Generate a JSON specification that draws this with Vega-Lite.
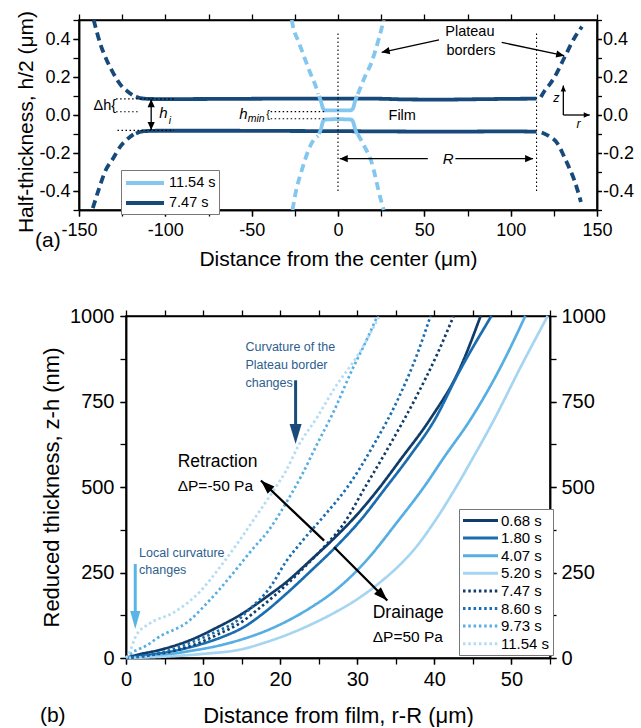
{
  "$schema": "https://vega.github.io/schema/vega-lite/v6.json",
  "background": "white",
  "padding": {"left": 15, "top": 9, "right": 0, "bottom": 0},
  "spacing": 106,
  "center": true,
  "bounds": "flush",
  "resolve": {"scale": {"color": "independent", "strokeDash": "independent"}, "legend": {"color": "independent", "strokeDash": "independent"}},
  "config": {
    "font": "Liberation Sans",
    "view": {"stroke": "black", "strokeWidth": 1.5},
    "axis": {"grid": false, "domainColor": "black", "domainWidth": 1.5, "tickColor": "black", "tickWidth": 1.3, "labelColor": "black", "titleColor": "black", "titleFontWeight": "normal", "labelFlush": false, "labelOverlap": false, "labelFont": "Liberation Sans", "titleFont": "Liberation Sans"},
    "legend": {"labelFont": "Liberation Sans", "labelColor": "black"}
  },
  "vconcat": [
    {
      "width": 518,
      "height": 190,
      "resolve": {"axis": {"x": "independent", "y": "independent"}},
      "layer": [
        {
          "layer": [
            {
              "data": {"values": [
                {"t": "7.47 s", "seg": "film-up", "part": "film", "x": -117, "y": 0.097},
                {"t": "7.47 s", "seg": "film-up", "part": "film", "x": -115, "y": 0.09},
                {"t": "7.47 s", "seg": "film-up", "part": "film", "x": -112, "y": 0.086},
                {"t": "7.47 s", "seg": "film-up", "part": "film", "x": -105, "y": 0.084},
                {"t": "7.47 s", "seg": "film-up", "part": "film", "x": -90, "y": 0.084},
                {"t": "7.47 s", "seg": "film-up", "part": "film", "x": -60, "y": 0.085},
                {"t": "7.47 s", "seg": "film-up", "part": "film", "x": -30, "y": 0.086},
                {"t": "7.47 s", "seg": "film-up", "part": "film", "x": 0, "y": 0.086},
                {"t": "7.47 s", "seg": "film-up", "part": "film", "x": 20, "y": 0.086},
                {"t": "7.47 s", "seg": "film-up", "part": "film", "x": 40, "y": 0.082},
                {"t": "7.47 s", "seg": "film-up", "part": "film", "x": 60, "y": 0.081},
                {"t": "7.47 s", "seg": "film-up", "part": "film", "x": 80, "y": 0.083},
                {"t": "7.47 s", "seg": "film-up", "part": "film", "x": 100, "y": 0.085},
                {"t": "7.47 s", "seg": "film-up", "part": "film", "x": 115, "y": 0.086},
                {"t": "7.47 s", "seg": "film-low", "part": "film", "x": -117, "y": -0.097},
                {"t": "7.47 s", "seg": "film-low", "part": "film", "x": -115, "y": -0.09},
                {"t": "7.47 s", "seg": "film-low", "part": "film", "x": -112, "y": -0.085},
                {"t": "7.47 s", "seg": "film-low", "part": "film", "x": -105, "y": -0.083},
                {"t": "7.47 s", "seg": "film-low", "part": "film", "x": -90, "y": -0.083},
                {"t": "7.47 s", "seg": "film-low", "part": "film", "x": -60, "y": -0.083},
                {"t": "7.47 s", "seg": "film-low", "part": "film", "x": -30, "y": -0.084},
                {"t": "7.47 s", "seg": "film-low", "part": "film", "x": 0, "y": -0.085},
                {"t": "7.47 s", "seg": "film-low", "part": "film", "x": 20, "y": -0.086},
                {"t": "7.47 s", "seg": "film-low", "part": "film", "x": 40, "y": -0.087},
                {"t": "7.47 s", "seg": "film-low", "part": "film", "x": 60, "y": -0.088},
                {"t": "7.47 s", "seg": "film-low", "part": "film", "x": 80, "y": -0.087},
                {"t": "7.47 s", "seg": "film-low", "part": "film", "x": 100, "y": -0.086},
                {"t": "7.47 s", "seg": "film-low", "part": "film", "x": 115, "y": -0.088},
                {"t": "7.47 s", "seg": "pb-ul", "part": "border", "x": -118.5, "y": 0.102},
                {"t": "7.47 s", "seg": "pb-ul", "part": "border", "x": -122, "y": 0.125},
                {"t": "7.47 s", "seg": "pb-ul", "part": "border", "x": -126, "y": 0.16},
                {"t": "7.47 s", "seg": "pb-ul", "part": "border", "x": -130, "y": 0.218},
                {"t": "7.47 s", "seg": "pb-ul", "part": "border", "x": -134, "y": 0.29},
                {"t": "7.47 s", "seg": "pb-ul", "part": "border", "x": -137.5, "y": 0.37},
                {"t": "7.47 s", "seg": "pb-ul", "part": "border", "x": -141.5, "y": 0.5},
                {"t": "7.47 s", "seg": "pb-ll", "part": "border", "x": -118.5, "y": -0.102},
                {"t": "7.47 s", "seg": "pb-ll", "part": "border", "x": -122, "y": -0.127},
                {"t": "7.47 s", "seg": "pb-ll", "part": "border", "x": -126, "y": -0.165},
                {"t": "7.47 s", "seg": "pb-ll", "part": "border", "x": -130, "y": -0.225},
                {"t": "7.47 s", "seg": "pb-ll", "part": "border", "x": -135, "y": -0.3},
                {"t": "7.47 s", "seg": "pb-ll", "part": "border", "x": -138.5, "y": -0.39},
                {"t": "7.47 s", "seg": "pb-ll", "part": "border", "x": -142, "y": -0.49},
                {"t": "7.47 s", "seg": "pb-ur", "part": "border", "x": 117.5, "y": 0.095},
                {"t": "7.47 s", "seg": "pb-ur", "part": "border", "x": 119.5, "y": 0.125},
                {"t": "7.47 s", "seg": "pb-ur", "part": "border", "x": 122.5, "y": 0.16},
                {"t": "7.47 s", "seg": "pb-ur", "part": "border", "x": 125.3, "y": 0.198},
                {"t": "7.47 s", "seg": "pb-ur", "part": "border", "x": 131, "y": 0.3},
                {"t": "7.47 s", "seg": "pb-ur", "part": "border", "x": 136.9, "y": 0.405},
                {"t": "7.47 s", "seg": "pb-ur", "part": "border", "x": 141.3, "y": 0.465},
                {"t": "7.47 s", "seg": "pb-lr", "part": "border", "x": 118, "y": -0.092},
                {"t": "7.47 s", "seg": "pb-lr", "part": "border", "x": 122, "y": -0.11},
                {"t": "7.47 s", "seg": "pb-lr", "part": "border", "x": 127.2, "y": -0.151},
                {"t": "7.47 s", "seg": "pb-lr", "part": "border", "x": 131, "y": -0.22},
                {"t": "7.47 s", "seg": "pb-lr", "part": "border", "x": 134, "y": -0.28},
                {"t": "7.47 s", "seg": "pb-lr", "part": "border", "x": 136.9, "y": -0.344},
                {"t": "7.47 s", "seg": "pb-lr", "part": "border", "x": 140.7, "y": -0.458},
                {"t": "11.54 s", "seg": "film-up", "part": "film", "x": -11, "y": 0.1},
                {"t": "11.54 s", "seg": "film-up", "part": "film", "x": -9.8, "y": 0.07},
                {"t": "11.54 s", "seg": "film-up", "part": "film", "x": -8.7, "y": 0.035},
                {"t": "11.54 s", "seg": "film-up", "part": "film", "x": -7.5, "y": 0.025},
                {"t": "11.54 s", "seg": "film-up", "part": "film", "x": 0, "y": 0.024},
                {"t": "11.54 s", "seg": "film-up", "part": "film", "x": 7.5, "y": 0.025},
                {"t": "11.54 s", "seg": "film-up", "part": "film", "x": 8.7, "y": 0.035},
                {"t": "11.54 s", "seg": "film-up", "part": "film", "x": 9.8, "y": 0.07},
                {"t": "11.54 s", "seg": "film-up", "part": "film", "x": 11, "y": 0.1},
                {"t": "11.54 s", "seg": "film-low", "part": "film", "x": -11, "y": -0.1},
                {"t": "11.54 s", "seg": "film-low", "part": "film", "x": -9.8, "y": -0.07},
                {"t": "11.54 s", "seg": "film-low", "part": "film", "x": -8.7, "y": -0.035},
                {"t": "11.54 s", "seg": "film-low", "part": "film", "x": -7.5, "y": -0.024},
                {"t": "11.54 s", "seg": "film-low", "part": "film", "x": 0, "y": -0.022},
                {"t": "11.54 s", "seg": "film-low", "part": "film", "x": 7.5, "y": -0.024},
                {"t": "11.54 s", "seg": "film-low", "part": "film", "x": 8.7, "y": -0.035},
                {"t": "11.54 s", "seg": "film-low", "part": "film", "x": 9.8, "y": -0.07},
                {"t": "11.54 s", "seg": "film-low", "part": "film", "x": 11, "y": -0.1},
                {"t": "11.54 s", "seg": "pb-ul", "part": "border", "x": -11.5, "y": 0.11},
                {"t": "11.54 s", "seg": "pb-ul", "part": "border", "x": -12.7, "y": 0.146},
                {"t": "11.54 s", "seg": "pb-ul", "part": "border", "x": -16, "y": 0.22},
                {"t": "11.54 s", "seg": "pb-ul", "part": "border", "x": -19.5, "y": 0.303},
                {"t": "11.54 s", "seg": "pb-ul", "part": "border", "x": -23, "y": 0.39},
                {"t": "11.54 s", "seg": "pb-ul", "part": "border", "x": -25.7, "y": 0.452},
                {"t": "11.54 s", "seg": "pb-ul", "part": "border", "x": -26.8, "y": 0.5},
                {"t": "11.54 s", "seg": "pb-ur", "part": "border", "x": 11.5, "y": 0.11},
                {"t": "11.54 s", "seg": "pb-ur", "part": "border", "x": 12.4, "y": 0.13},
                {"t": "11.54 s", "seg": "pb-ur", "part": "border", "x": 15.5, "y": 0.2},
                {"t": "11.54 s", "seg": "pb-ur", "part": "border", "x": 19.1, "y": 0.27},
                {"t": "11.54 s", "seg": "pb-ur", "part": "border", "x": 23.9, "y": 0.41},
                {"t": "11.54 s", "seg": "pb-ur", "part": "border", "x": 26.5, "y": 0.5},
                {"t": "11.54 s", "seg": "pb-ll", "part": "border", "x": -11.5, "y": -0.11},
                {"t": "11.54 s", "seg": "pb-ll", "part": "border", "x": -14.7, "y": -0.14},
                {"t": "11.54 s", "seg": "pb-ll", "part": "border", "x": -20.4, "y": -0.274},
                {"t": "11.54 s", "seg": "pb-ll", "part": "border", "x": -25.7, "y": -0.466},
                {"t": "11.54 s", "seg": "pb-ll", "part": "border", "x": -26.3, "y": -0.5},
                {"t": "11.54 s", "seg": "pb-lr", "part": "border", "x": 11.4, "y": -0.1},
                {"t": "11.54 s", "seg": "pb-lr", "part": "border", "x": 15, "y": -0.16},
                {"t": "11.54 s", "seg": "pb-lr", "part": "border", "x": 19.1, "y": -0.239},
                {"t": "11.54 s", "seg": "pb-lr", "part": "border", "x": 24.9, "y": -0.449},
                {"t": "11.54 s", "seg": "pb-lr", "part": "border", "x": 26.5, "y": -0.5}
              ]},
              "mark": {"type": "line", "interpolate": "monotone", "strokeWidth": 3.8},
              "encoding": {
                "x": {"field": "x", "type": "quantitative", "scale": {"domain": [-150, 150], "nice": false, "zero": false},
                  "axis": {"orient": "bottom", "title": "Distance from the center (μm)", "values": [-150, -100, -50, 0, 50, 100, 150], "labelExpr": "'' + datum.value", "labelOverlap": false, "tickSize": 6, "labelFontSize": 18, "labelPadding": 5, "titleFontSize": 21, "titlePadding": 9}},
                "y": {"field": "y", "type": "quantitative", "scale": {"domain": [-0.5, 0.5], "nice": false, "zero": false},
                  "axis": {"orient": "left", "title": "Half-thickness, h/2 (μm)", "titleY": 101.5, "values": [-0.4, -0.2, 0, 0.2, 0.4], "labelExpr": "replace(format(datum.value, '.1f'), '\u2212', '-')", "labelOverlap": false, "tickSize": 6, "labelFontSize": 18, "labelPadding": 3, "titleFontSize": 21, "titlePadding": 2}},
                "color": {"field": "t", "type": "nominal", "scale": {"domain": ["11.54 s", "7.47 s"], "range": ["#83c6ef", "#174a7b"]},
                  "legend": {"orient": "none", "legendX": 42, "legendY": 150, "title": null, "symbolType": "M-2.5,0H2.5", "symbolSize": 231, "symbolStrokeWidth": 4, "labelFontSize": 14.5, "labelOffset": 14, "symbolOffset": 11, "strokeColor": "#777", "fillColor": "white", "padding": 3, "rowPadding": 2}},
                "strokeDash": {"field": "part", "type": "nominal", "scale": {"domain": ["film", "border"], "range": [[1, 0], [8, 5]]}, "legend": null},
                "detail": {"field": "seg"}
              }
            },
            {
              "data": {"values": [{"x": -108.2, "y": 0.083}]},
              "mark": {"type": "point", "shape": "M0,0L-0.45,1L0.45,1Z", "filled": true, "color": "black", "opacity": 1, "size": 256, "angle": 0, "strokeWidth": 0},
              "encoding": {"x": {"field": "x", "type": "quantitative"}, "y": {"field": "y", "type": "quantitative"}}
            },
            {
              "data": {"values": [{"x": -108.2, "y": -0.079}]},
              "mark": {"type": "point", "shape": "M0,0L-0.45,1L0.45,1Z", "filled": true, "color": "black", "opacity": 1, "size": 256, "angle": 180, "strokeWidth": 0},
              "encoding": {"x": {"field": "x", "type": "quantitative"}, "y": {"field": "y", "type": "quantitative"}}
            },
            {
              "data": {"values": [{"x": 1, "y": -0.23}]},
              "mark": {"type": "point", "shape": "M0,0L-0.45,1L0.45,1Z", "filled": true, "color": "black", "opacity": 1, "size": 256, "angle": 270, "strokeWidth": 0},
              "encoding": {"x": {"field": "x", "type": "quantitative"}, "y": {"field": "y", "type": "quantitative"}}
            },
            {
              "data": {"values": [{"x": 113, "y": -0.23}]},
              "mark": {"type": "point", "shape": "M0,0L-0.45,1L0.45,1Z", "filled": true, "color": "black", "opacity": 1, "size": 256, "angle": 90, "strokeWidth": 0},
              "encoding": {"x": {"field": "x", "type": "quantitative"}, "y": {"field": "y", "type": "quantitative"}}
            },
            {
              "data": {"values": [{"x": 25.3, "y": 0.33}]},
              "mark": {"type": "point", "shape": "M0,0L-0.45,1L0.45,1Z", "filled": true, "color": "black", "opacity": 1, "size": 256, "angle": 257.8, "strokeWidth": 0},
              "encoding": {"x": {"field": "x", "type": "quantitative"}, "y": {"field": "y", "type": "quantitative"}}
            },
            {
              "data": {"values": [{"x": 131, "y": 0.312}]},
              "mark": {"type": "point", "shape": "M0,0L-0.45,1L0.45,1Z", "filled": true, "color": "black", "opacity": 1, "size": 256, "angle": 102, "strokeWidth": 0},
              "encoding": {"x": {"field": "x", "type": "quantitative"}, "y": {"field": "y", "type": "quantitative"}}
            },
            {
              "data": {"values": [{"x": 130.5, "y": 0.155}]},
              "mark": {"type": "point", "shape": "M0,0L-0.45,1L0.45,1Z", "filled": true, "color": "black", "opacity": 1, "size": 144, "angle": 0, "strokeWidth": 0},
              "encoding": {"x": {"field": "x", "type": "quantitative"}, "y": {"field": "y", "type": "quantitative"}}
            },
            {
              "data": {"values": [{"x": 145.8, "y": 0}]},
              "mark": {"type": "point", "shape": "M0,0L-0.45,1L0.45,1Z", "filled": true, "color": "black", "opacity": 1, "size": 144, "angle": 90, "strokeWidth": 0},
              "encoding": {"x": {"field": "x", "type": "quantitative"}, "y": {"field": "y", "type": "quantitative"}}
            },
            {
              "data": {"values": [
                {"x": 76.4, "y": 0.435, "label": "Plateau"},
                {"x": 77, "y": 0.339, "label": "borders"},
                {"x": 37.2, "y": -0.003, "label": "Film"}
              ]},
              "mark": {"type": "text", "fontSize": 14.5, "color": "black", "align": "center", "baseline": "middle"},
              "encoding": {"x": {"field": "x", "type": "quantitative"}, "y": {"field": "y", "type": "quantitative"}, "text": {"field": "label"}}
            },
            {
              "data": {"values": [{"x": -128.5, "y": 0.05, "label": "Δh{"}]},
              "mark": {"type": "text", "fontSize": 14.5, "color": "black", "align": "right", "baseline": "middle"},
              "encoding": {"x": {"field": "x", "type": "quantitative"}, "y": {"field": "y", "type": "quantitative"}, "text": {"field": "label"}}
            },
            {
              "data": {"values": [{"x": -40.5, "y": 0.0, "label": "{"}]},
              "mark": {"type": "text", "fontSize": 11, "color": "black", "align": "center", "baseline": "middle"},
              "encoding": {"x": {"field": "x", "type": "quantitative"}, "y": {"field": "y", "type": "quantitative"}, "text": {"field": "label"}}
            },
            {
              "data": {"values": [
                {"x": 60.6, "y": -0.231, "label": "R"},
                {"x": -103.5, "y": 0.01, "label": "h"},
                {"x": -57.2, "y": 0.003, "label": "h"}
              ]},
              "mark": {"type": "text", "fontSize": 15, "fontStyle": "italic", "color": "black", "align": "left", "baseline": "middle"},
              "encoding": {"x": {"field": "x", "type": "quantitative"}, "y": {"field": "y", "type": "quantitative"}, "text": {"field": "label"}}
            },
            {
              "data": {"values": [
                {"x": -98.0, "y": -0.029, "label": "i"},
                {"x": -52.3, "y": -0.023, "label": "min"}
              ]},
              "mark": {"type": "text", "fontSize": 10.5, "fontStyle": "italic", "color": "black", "align": "left", "baseline": "middle"},
              "encoding": {"x": {"field": "x", "type": "quantitative"}, "y": {"field": "y", "type": "quantitative"}, "text": {"field": "label"}}
            },
            {
              "data": {"values": [
                {"x": 126.5, "y": 0.088, "label": "z"},
                {"x": 139.4, "y": -0.046, "label": "r"}
              ]},
              "mark": {"type": "text", "fontSize": 12.5, "fontStyle": "italic", "color": "black", "align": "center", "baseline": "middle"},
              "encoding": {"x": {"field": "x", "type": "quantitative"}, "y": {"field": "y", "type": "quantitative"}, "text": {"field": "label"}}
            },
            {
              "data": {"values": [{"x": -168, "y": -0.664, "label": "(a)"}]},
              "mark": {"type": "text", "fontSize": 21, "color": "black", "align": "center", "baseline": "middle"},
              "encoding": {"x": {"field": "x", "type": "quantitative"}, "y": {"field": "y", "type": "quantitative"}, "text": {"field": "label"}}
            }
          ]
        },
        {
          "data": {"values": [
            {"x": 0, "y": -0.4, "y2": 0.43},
            {"x": 115, "y": -0.4, "y2": 0.43}
          ]},
          "mark": {"type": "rule", "strokeDash": [1.5, 2.5], "strokeWidth": 1.1, "color": "black"},
          "encoding": {
            "x": {"field": "x", "type": "quantitative", "scale": {"domain": [-150, 150], "nice": false, "zero": false},
              "axis": {"orient": "top", "title": null, "labels": false, "values": [-150, -125, -100, -75, -50, -25, 0, 25, 50, 75, 100, 125, 150], "tickSize": 6}},
            "y": {"field": "y", "type": "quantitative", "scale": {"domain": [-0.5, 0.5], "nice": false, "zero": false},
              "axis": {"orient": "right", "title": null, "values": [-0.4, -0.2, 0, 0.2, 0.4], "labelExpr": "replace(format(datum.value, '.1f'), '\u2212', '-')", "labelOverlap": false, "tickSize": 4.5, "labelFontSize": 18, "labelPadding": 1}},
            "y2": {"field": "y2"}
          }
        },
        {
          "data": {"values": [
            {"x": -128.5, "x2": -95, "y": 0.085},
            {"x": -128.5, "x2": -116, "y": 0.017},
            {"x": -127.7, "x2": -95, "y": -0.081},
            {"x": -39, "x2": -8, "y": 0.018},
            {"x": -39, "x2": -8, "y": -0.02}
          ]},
          "mark": {"type": "rule", "strokeDash": [1.5, 2.5], "strokeWidth": 1.1, "color": "black"},
          "encoding": {
            "x": {"field": "x", "type": "quantitative", "scale": {"domain": [-150, 150], "nice": false, "zero": false},
              "axis": {"orient": "bottom", "title": null, "labels": false, "values": [-150, -125, -100, -75, -50, -25, 0, 25, 50, 75, 100, 125, 150], "tickSize": 6}},
            "x2": {"field": "x2"},
            "y": {"field": "y", "type": "quantitative", "scale": {"domain": [-0.5, 0.5], "nice": false, "zero": false},
              "axis": {"orient": "left", "title": null, "labels": false, "values": [-0.5, -0.4, -0.3, -0.2, -0.1, 0, 0.1, 0.2, 0.3, 0.4, 0.5], "tickSize": 6}}
          }
        },
        {
          "data": {"values": [
            {"x": -108.2, "y": 0.083, "x2": -108.2, "y2": -0.079},
            {"x": 1, "y": -0.23, "x2": 52, "y2": -0.23},
            {"x": 68, "y": -0.23, "x2": 113, "y2": -0.23},
            {"x": 58.5, "y": 0.395, "x2": 25.3, "y2": 0.33},
            {"x": 94.8, "y": 0.382, "x2": 131, "y2": 0.312},
            {"x": 130.5, "y": 0, "x2": 130.5, "y2": 0.155},
            {"x": 130.5, "y": 0, "x2": 145.8, "y2": 0}
          ]},
          "mark": {"type": "rule", "strokeWidth": 1.3, "color": "black"},
          "encoding": {
            "x": {"field": "x", "type": "quantitative", "scale": {"domain": [-150, 150], "nice": false, "zero": false}, "axis": null},
            "x2": {"field": "x2"},
            "y": {"field": "y", "type": "quantitative", "scale": {"domain": [-0.5, 0.5], "nice": false, "zero": false},
              "axis": {"orient": "right", "title": null, "labels": false, "values": [-0.5, -0.4, -0.3, -0.2, -0.1, 0, 0.1, 0.2, 0.3, 0.4, 0.5], "tickSize": 4.5}},
            "y2": {"field": "y2"}
          }
        }
      ]
    },
    {
      "width": 424,
      "height": 342,
      "resolve": {"axis": {"x": "independent", "y": "independent"}},
      "layer": [
        {
          "layer": [
            {
              "data": {"values": [
                {"t": "0.68 s", "x": 0, "y": 0}, {"t": "0.68 s", "x": 0.9, "y": 6}, {"t": "0.68 s", "x": 4.8, "y": 26}, {"t": "0.68 s", "x": 8.2, "y": 51}, {"t": "0.68 s", "x": 11.7, "y": 88}, {"t": "0.68 s", "x": 15.1, "y": 130}, {"t": "0.68 s", "x": 18, "y": 175}, {"t": "0.68 s", "x": 20.9, "y": 224}, {"t": "0.68 s", "x": 24, "y": 287}, {"t": "0.68 s", "x": 27, "y": 350}, {"t": "0.68 s", "x": 30, "y": 420}, {"t": "0.68 s", "x": 32.6, "y": 490}, {"t": "0.68 s", "x": 35.6, "y": 580}, {"t": "0.68 s", "x": 39.5, "y": 700}, {"t": "0.68 s", "x": 43.2, "y": 841}, {"t": "0.68 s", "x": 46, "y": 1000},
                {"t": "1.80 s", "x": 0, "y": 0}, {"t": "1.80 s", "x": 0.9, "y": 3}, {"t": "1.80 s", "x": 6.1, "y": 20}, {"t": "1.80 s", "x": 10.4, "y": 45}, {"t": "1.80 s", "x": 13, "y": 66}, {"t": "1.80 s", "x": 15.1, "y": 88}, {"t": "1.80 s", "x": 18, "y": 134}, {"t": "1.80 s", "x": 20.9, "y": 190}, {"t": "1.80 s", "x": 24, "y": 255}, {"t": "1.80 s", "x": 27, "y": 320}, {"t": "1.80 s", "x": 30.5, "y": 405}, {"t": "1.80 s", "x": 33.5, "y": 492}, {"t": "1.80 s", "x": 36.8, "y": 590}, {"t": "1.80 s", "x": 40, "y": 695}, {"t": "1.80 s", "x": 43.2, "y": 836}, {"t": "1.80 s", "x": 47.4, "y": 1000},
                {"t": "4.07 s", "x": 0, "y": 0}, {"t": "4.07 s", "x": 3, "y": 4}, {"t": "4.07 s", "x": 8.2, "y": 20}, {"t": "4.07 s", "x": 12, "y": 36}, {"t": "4.07 s", "x": 15.1, "y": 55}, {"t": "4.07 s", "x": 18, "y": 78}, {"t": "4.07 s", "x": 20.9, "y": 108}, {"t": "4.07 s", "x": 24, "y": 148}, {"t": "4.07 s", "x": 27, "y": 195}, {"t": "4.07 s", "x": 30.9, "y": 278}, {"t": "4.07 s", "x": 35.2, "y": 398}, {"t": "4.07 s", "x": 38.9, "y": 508}, {"t": "4.07 s", "x": 41.2, "y": 585}, {"t": "4.07 s", "x": 44.7, "y": 698}, {"t": "4.07 s", "x": 48.6, "y": 851}, {"t": "4.07 s", "x": 51.8, "y": 1000},
                {"t": "5.20 s", "x": 0, "y": 0}, {"t": "5.20 s", "x": 4, "y": 3}, {"t": "5.20 s", "x": 10, "y": 12}, {"t": "5.20 s", "x": 15.1, "y": 26}, {"t": "5.20 s", "x": 18, "y": 45}, {"t": "5.20 s", "x": 20.9, "y": 68}, {"t": "5.20 s", "x": 24, "y": 98}, {"t": "5.20 s", "x": 27, "y": 132}, {"t": "5.20 s", "x": 30, "y": 172}, {"t": "5.20 s", "x": 33, "y": 222}, {"t": "5.20 s", "x": 35.5, "y": 272}, {"t": "5.20 s", "x": 37.4, "y": 318}, {"t": "5.20 s", "x": 40, "y": 398}, {"t": "5.20 s", "x": 42.7, "y": 495}, {"t": "5.20 s", "x": 45, "y": 585}, {"t": "5.20 s", "x": 47.7, "y": 695}, {"t": "5.20 s", "x": 51.2, "y": 851}, {"t": "5.20 s", "x": 54.7, "y": 1000},
                {"t": "7.47 s", "x": 0, "y": 0}, {"t": "7.47 s", "x": 3, "y": 8}, {"t": "7.47 s", "x": 6, "y": 20}, {"t": "7.47 s", "x": 9, "y": 40}, {"t": "7.47 s", "x": 12, "y": 70}, {"t": "7.47 s", "x": 15, "y": 105}, {"t": "7.47 s", "x": 17, "y": 140}, {"t": "7.47 s", "x": 19.4, "y": 185}, {"t": "7.47 s", "x": 22, "y": 240}, {"t": "7.47 s", "x": 24, "y": 285}, {"t": "7.47 s", "x": 26, "y": 332}, {"t": "7.47 s", "x": 28.1, "y": 388}, {"t": "7.47 s", "x": 30.9, "y": 495}, {"t": "7.47 s", "x": 34.3, "y": 626}, {"t": "7.47 s", "x": 37.4, "y": 753}, {"t": "7.47 s", "x": 40.4, "y": 890}, {"t": "7.47 s", "x": 42.5, "y": 1000},
                {"t": "8.60 s", "x": 0, "y": 0}, {"t": "8.60 s", "x": 3, "y": 8}, {"t": "8.60 s", "x": 6, "y": 25}, {"t": "8.60 s", "x": 9, "y": 50}, {"t": "8.60 s", "x": 12, "y": 80}, {"t": "8.60 s", "x": 14, "y": 102}, {"t": "8.60 s", "x": 16, "y": 142}, {"t": "8.60 s", "x": 18.8, "y": 210}, {"t": "8.60 s", "x": 20.7, "y": 280}, {"t": "8.60 s", "x": 22.9, "y": 343}, {"t": "8.60 s", "x": 25.9, "y": 421}, {"t": "8.60 s", "x": 28.7, "y": 499}, {"t": "8.60 s", "x": 32.2, "y": 626}, {"t": "8.60 s", "x": 35.2, "y": 753}, {"t": "8.60 s", "x": 37.8, "y": 890}, {"t": "8.60 s", "x": 39.5, "y": 1000},
                {"t": "9.73 s", "x": 0, "y": 0}, {"t": "9.73 s", "x": 0.6, "y": 12}, {"t": "9.73 s", "x": 3, "y": 41}, {"t": "9.73 s", "x": 3.9, "y": 56}, {"t": "9.73 s", "x": 8.2, "y": 109}, {"t": "9.73 s", "x": 10.4, "y": 158}, {"t": "9.73 s", "x": 12.1, "y": 200}, {"t": "9.73 s", "x": 14.4, "y": 262}, {"t": "9.73 s", "x": 16.4, "y": 318}, {"t": "9.73 s", "x": 18.5, "y": 373}, {"t": "9.73 s", "x": 20.7, "y": 451}, {"t": "9.73 s", "x": 22.9, "y": 539}, {"t": "9.73 s", "x": 24.8, "y": 626}, {"t": "9.73 s", "x": 26.8, "y": 714}, {"t": "9.73 s", "x": 29.4, "y": 846}, {"t": "9.73 s", "x": 31.3, "y": 934}, {"t": "9.73 s", "x": 32.6, "y": 1000},
                {"t": "11.54 s", "x": 0, "y": 0}, {"t": "11.54 s", "x": 0.44, "y": 16}, {"t": "11.54 s", "x": 1.3, "y": 65}, {"t": "11.54 s", "x": 3, "y": 100}, {"t": "11.54 s", "x": 6.1, "y": 132}, {"t": "11.54 s", "x": 9.5, "y": 192}, {"t": "11.54 s", "x": 12.5, "y": 275}, {"t": "11.54 s", "x": 14.7, "y": 343}, {"t": "11.54 s", "x": 16.8, "y": 412}, {"t": "11.54 s", "x": 19, "y": 485}, {"t": "11.54 s", "x": 20.7, "y": 545}, {"t": "11.54 s", "x": 22.4, "y": 622}, {"t": "11.54 s", "x": 24.8, "y": 704}, {"t": "11.54 s", "x": 27, "y": 787}, {"t": "11.54 s", "x": 30.2, "y": 890}, {"t": "11.54 s", "x": 32.9, "y": 1000}
              ]},
              "mark": {"type": "line", "interpolate": "monotone", "strokeWidth": 2.7},
              "encoding": {
                "x": {"field": "x", "type": "quantitative", "scale": {"domain": [0, 55], "nice": false},
                  "axis": {"orient": "bottom", "title": "Distance from film, r-R (μm)", "values": [0, 10, 20, 30, 40, 50], "labelOverlap": false, "tickSize": 6, "labelFontSize": 20, "labelPadding": 5, "titleFontSize": 22, "titlePadding": 16}},
                "y": {"field": "y", "type": "quantitative", "scale": {"domain": [0, 1000], "nice": false},
                  "axis": {"orient": "left", "title": "Reduced thickness, z-h (nm)", "values": [0, 250, 500, 750, 1000], "format": "d", "labelOverlap": false, "tickSize": 6, "labelFontSize": 20, "labelPadding": 6, "titleFontSize": 22, "titlePadding": 6}},
                "color": {"field": "t", "type": "nominal", "sort": null,
                  "scale": {"domain": ["0.68 s", "1.80 s", "4.07 s", "5.20 s", "7.47 s", "8.60 s", "9.73 s", "11.54 s"], "range": ["#0f3c69", "#1a6db0", "#56aee3", "#a6d5f2", "#0f3c69", "#1a6db0", "#56aee3", "#b3dcf4"]},
                  "legend": {"orient": "none", "legendX": 333, "legendY": 193, "title": null, "symbolType": "M-2.5,0H2.5", "symbolSize": 196, "symbolStrokeWidth": 3, "labelFontSize": 15, "labelOffset": 12, "symbolOffset": 10, "strokeColor": "#777", "fillColor": "white", "padding": 3, "rowPadding": 0.6}},
                "strokeDash": {"field": "t", "type": "nominal", "sort": null,
                  "scale": {"domain": ["0.68 s", "1.80 s", "4.07 s", "5.20 s", "7.47 s", "8.60 s", "9.73 s", "11.54 s"], "range": [[1, 0], [1, 0], [1, 0], [1, 0], [2.5, 2.8], [2.5, 2.8], [2.5, 2.8], [2.5, 2.8]]}}
              }
            },
            {
              "data": {"values": [{"x": 22, "y": 626}]},
              "mark": {"type": "point", "shape": "M0,0L-0.3,1L0.3,1Z", "filled": true, "color": "#1b4b7a", "opacity": 1, "size": 1600, "angle": 180, "strokeWidth": 0},
              "encoding": {"x": {"field": "x", "type": "quantitative"}, "y": {"field": "y", "type": "quantitative"}}
            },
            {
              "data": {"values": [{"x": 1.2, "y": 85}]},
              "mark": {"type": "point", "shape": "M0,0L-0.28,1L0.28,1Z", "filled": true, "color": "#5ab4e6", "opacity": 1, "size": 1296, "angle": 180, "strokeWidth": 0},
              "encoding": {"x": {"field": "x", "type": "quantitative"}, "y": {"field": "y", "type": "quantitative"}}
            },
            {
              "data": {"values": [{"x": 17.5, "y": 519}]},
              "mark": {"type": "point", "shape": "M0,0L-0.35,1L0.35,1Z", "filled": true, "color": "black", "opacity": 1, "size": 784, "angle": 313.5, "strokeWidth": 0},
              "encoding": {"x": {"field": "x", "type": "quantitative"}, "y": {"field": "y", "type": "quantitative"}}
            },
            {
              "data": {"values": [{"x": 33.9, "y": 168}]},
              "mark": {"type": "point", "shape": "M0,0L-0.35,1L0.35,1Z", "filled": true, "color": "black", "opacity": 1, "size": 784, "angle": 135, "strokeWidth": 0},
              "encoding": {"x": {"field": "x", "type": "quantitative"}, "y": {"field": "y", "type": "quantitative"}}
            },
            {
              "data": {"values": [
                {"x": 15.5, "y": 909, "label": "Curvature of the"},
                {"x": 15.5, "y": 856, "label": "Plateau border"},
                {"x": 15.5, "y": 804, "label": "changes"},
                {"x": 1.7, "y": 307, "label": "Local curvature"},
                {"x": 1.7, "y": 256, "label": "changes"}
              ]},
              "mark": {"type": "text", "fontSize": 12.5, "color": "#2d5e8f", "align": "left", "baseline": "middle"},
              "encoding": {"x": {"field": "x", "type": "quantitative"}, "y": {"field": "y", "type": "quantitative"}, "text": {"field": "label"}}
            },
            {
              "data": {"values": [
                {"x": 6.7, "y": 573, "label": "Retraction"},
                {"x": 32, "y": 133, "label": "Drainage"}
              ]},
              "mark": {"type": "text", "fontSize": 17.5, "color": "black", "align": "left", "baseline": "middle"},
              "encoding": {"x": {"field": "x", "type": "quantitative"}, "y": {"field": "y", "type": "quantitative"}, "text": {"field": "label"}}
            },
            {
              "data": {"values": [
                {"x": 6.7, "y": 502, "label": "ΔP=-50 Pa"},
                {"x": 32, "y": 62, "label": "ΔP=50 Pa"}
              ]},
              "mark": {"type": "text", "fontSize": 15.5, "color": "black", "align": "left", "baseline": "middle"},
              "encoding": {"x": {"field": "x", "type": "quantitative"}, "y": {"field": "y", "type": "quantitative"}, "text": {"field": "label"}}
            },
            {
              "data": {"values": [{"x": -9.5, "y": -169, "label": "(b)"}]},
              "mark": {"type": "text", "fontSize": 21, "color": "black", "align": "center", "baseline": "middle"},
              "encoding": {"x": {"field": "x", "type": "quantitative"}, "y": {"field": "y", "type": "quantitative"}, "text": {"field": "label"}}
            }
          ]
        },
        {
          "data": {"values": [
            {"x": 25.7, "y": 343, "x2": 17.5, "y2": 519},
            {"x": 27, "y": 324, "x2": 33.9, "y2": 168}
          ]},
          "mark": {"type": "rule", "strokeWidth": 2.3, "color": "black"},
          "encoding": {
            "x": {"field": "x", "type": "quantitative", "scale": {"domain": [0, 55], "nice": false},
              "axis": {"orient": "top", "title": null, "labels": false, "values": [0, 5, 10, 15, 20, 25, 30, 35, 40, 45, 50, 55], "tickSize": 6}},
            "y": {"field": "y", "type": "quantitative", "scale": {"domain": [0, 1000], "nice": false},
              "axis": {"orient": "right", "title": null, "values": [0, 250, 500, 750, 1000], "format": "d", "labelOverlap": false, "tickSize": 6, "labelFontSize": 20, "labelPadding": 5}},
            "x2": {"field": "x2"},
            "y2": {"field": "y2"}
          }
        },
        {
          "data": {"values": [{"x": 22, "y": 812, "x2": 22, "y2": 650}]},
          "mark": {"type": "rule", "strokeWidth": 3, "color": "#1b4b7a"},
          "encoding": {
            "x": {"field": "x", "type": "quantitative", "scale": {"domain": [0, 55], "nice": false},
              "axis": {"orient": "bottom", "title": null, "labels": false, "values": [0, 5, 10, 15, 20, 25, 30, 35, 40, 45, 50, 55], "tickSize": 6}},
            "x2": {"field": "x2"},
            "y": {"field": "y", "type": "quantitative", "scale": {"domain": [0, 1000], "nice": false},
              "axis": {"orient": "left", "title": null, "labels": false, "values": [0, 125, 250, 375, 500, 625, 750, 875, 1000], "tickSize": 6}},
            "y2": {"field": "y2"}
          }
        },
        {
          "data": {"values": [{"x": 1.2, "y": 275, "x2": 1.2, "y2": 110}]},
          "mark": {"type": "rule", "strokeWidth": 3, "color": "#5ab4e6"},
          "encoding": {
            "x": {"field": "x", "type": "quantitative", "scale": {"domain": [0, 55], "nice": false}, "axis": null},
            "x2": {"field": "x2"},
            "y": {"field": "y", "type": "quantitative", "scale": {"domain": [0, 1000], "nice": false},
              "axis": {"orient": "right", "title": null, "labels": false, "values": [0, 125, 250, 375, 500, 625, 750, 875, 1000], "tickSize": 6}},
            "y2": {"field": "y2"}
          }
        }
      ]
    }
  ]
}
